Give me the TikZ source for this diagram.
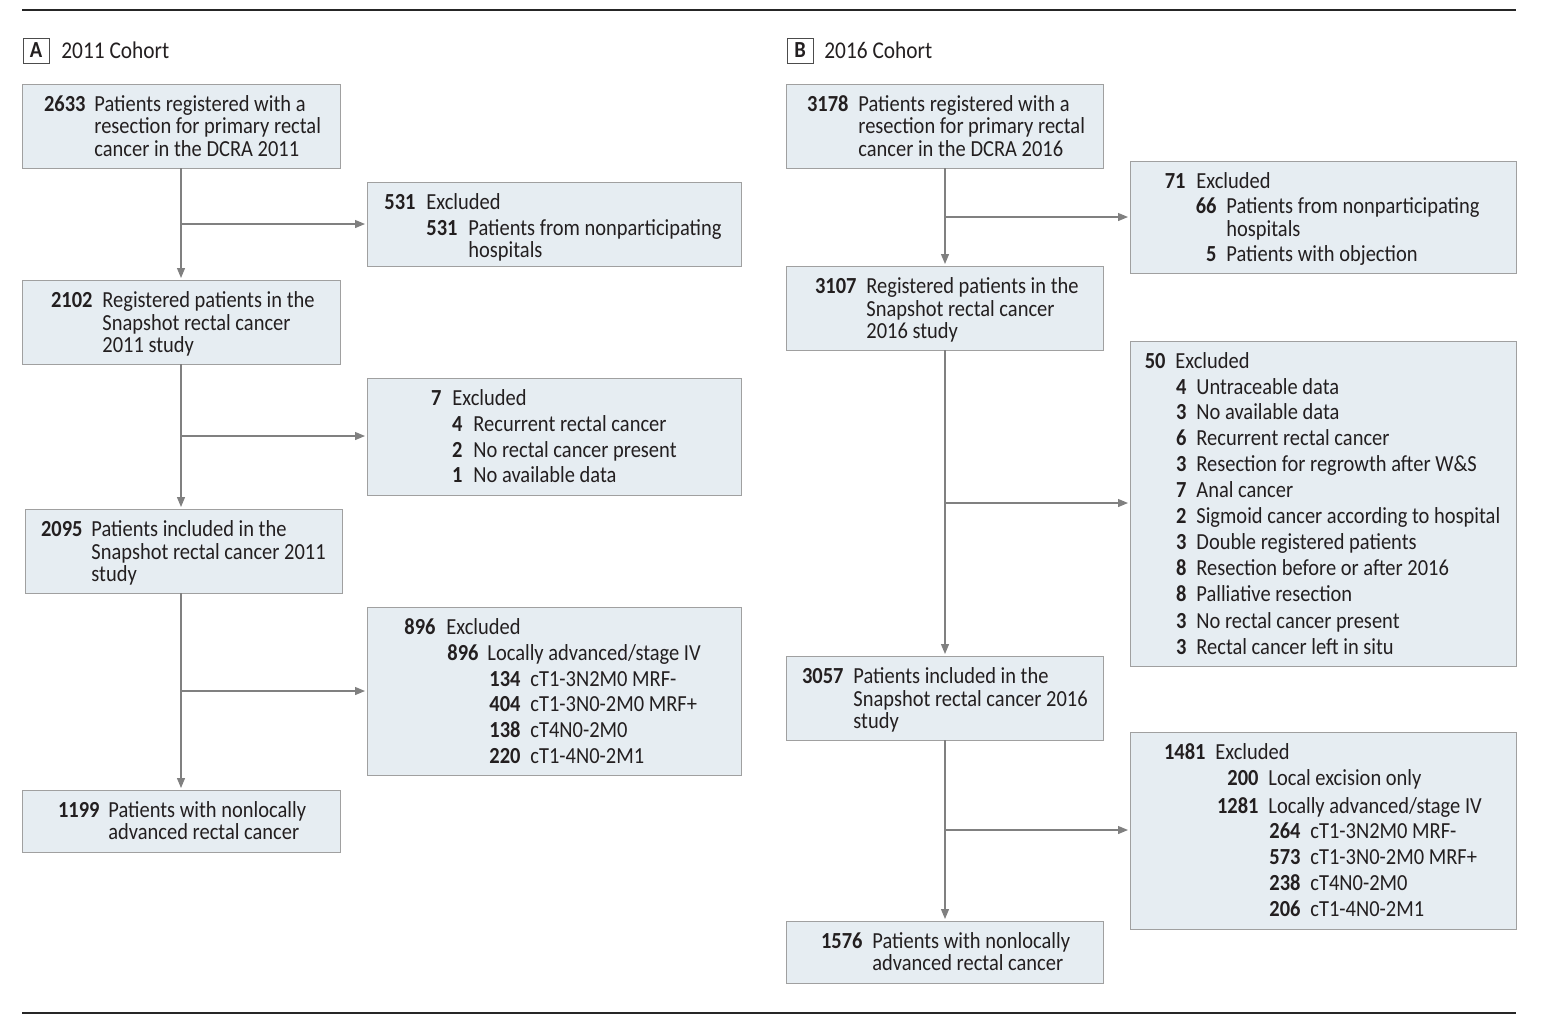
\documentclass[tikz,border=0pt]{standalone}
\usepackage{fontspec}
\setmainfont[FakeStretch=0.89]{Carlito}
\usetikzlibrary{arrows.meta,fit}
\definecolor{boxfill}{RGB}{230,237,242}
\definecolor{boxline}{RGB}{160,160,160}
\definecolor{arrgray}{RGB}{128,128,128}
\definecolor{txt}{RGB}{35,31,32}
\newcounter{lnc}
\newcommand\numrow[5]{%
  \stepcounter{lnc}%
  \node[numst] (n\arabic{lnc}) at (#1,#3+7) {#4};
  \node[txtst] (t\arabic{lnc}) at (#2,#3+7) {#5};
}
\newcommand\txtrow[3]{%
  \stepcounter{lnc}%
  \node[txtst] (c\arabic{lnc}) at (#1,#2+7) {#3};
}
\newcommand\boxat[5]{%
  \node[flowbox, fit={(#2,#3) (#4,#5)}] (#1) {};
}
\begin{document}
\begin{tikzpicture}[x=0.5pt,y=-0.5pt,
  every node/.style={text=txt},
  flowbox/.style={draw=boxline, fill=boxfill, line width=0.5pt, inner sep=0pt, outer sep=0pt},
  numst/.style={anchor=base east, inner sep=0pt, font=\fontsize{11.5}{13}\selectfont\bfseries},
  txtst/.style={anchor=base west, inner sep=0pt, font=\fontsize{11.5}{13}\selectfont},
  lblbox/.style={draw=black!70, line width=0.5pt, inner sep=0pt},
  arr/.style={draw=arrgray, line width=0.6pt, -{Triangle[length=5pt,width=4pt]}, shorten >=1pt},
  rule/.style={draw=black!85, line width=0.75pt}
]
\useasboundingbox (0,0) rectangle (1543,1029);
\draw[rule] (22,10) -- (1516,10);
\draw[rule] (22,1013) -- (1516,1013);

% panel labels
\node[lblbox, fit={(23,38) (49,63)}] (la) {};
\node[font=\fontsize{11.5}{13}\selectfont\bfseries, inner sep=0pt] (lat) at (la.center) {A};
\node[txtst, font=\fontsize{12}{13}\selectfont] (lac) at (61,58) {2011 Cohort};
\node[lblbox, fit={(787,38) (813,63)}] (lb) {};
\node[font=\fontsize{11.5}{13}\selectfont\bfseries, inner sep=0pt] (lbt) at (lb.center) {B};
\node[txtst, font=\fontsize{12}{13}\selectfont] (lbc) at (824,58) {2016 Cohort};

% ===== Panel A boxes =====
\boxat{a1}{22}{84}{340}{168}
\boxat{ax1}{367}{182}{741}{266}
\boxat{a2}{22}{280}{340}{364}
\boxat{ax2}{367}{378}{741}{495}
\boxat{a3}{25}{509}{342}{593}
\boxat{ax3}{367}{607}{741}{775}
\boxat{a4}{22}{790}{340}{852}

% ===== Panel B boxes =====
\boxat{b1}{786}{84}{1103}{168}
\boxat{bx1}{1130}{161}{1516}{273}
\boxat{b2}{786}{266}{1103}{350}
\boxat{bx2}{1130}{341}{1516}{666}
\boxat{b3}{786}{656}{1103}{740}
\boxat{bx3}{1130}{732}{1516}{929}
\boxat{b4}{786}{921}{1103}{983}

% ===== connectors A =====
\coordinate (ja1) at (181,224);
\coordinate (ja2) at (181,436);
\coordinate (ja3) at (181,691);
\draw[arr] (a1.south -| ja1) -- (a2.north -| ja1);
\draw[arr] (a2.south -| ja1) -- (a3.north -| ja1);
\draw[arr] (a3.south -| ja1) -- (a4.north -| ja1);
\draw[arr] (ja1) -- (ja1 -| ax1.west);
\draw[arr] (ja2) -- (ja2 -| ax2.west);
\draw[arr] (ja3) -- (ja3 -| ax3.west);

% ===== connectors B =====
\coordinate (jb1) at (945,217);
\coordinate (jb2) at (945,503);
\coordinate (jb3) at (945,830);
\draw[arr] (b1.south -| jb1) -- (b2.north -| jb1);
\draw[arr] (b2.south -| jb1) -- (b3.north -| jb1);
\draw[arr] (b3.south -| jb1) -- (b4.north -| jb1);
\draw[arr] (jb1) -- (jb1 -| bx1.west);
\draw[arr] (jb2) -- (jb2 -| bx2.west);
\draw[arr] (jb3) -- (jb3 -| bx3.west);

% ===== texts A =====
\numrow{86}{94}{104}{2633}{Patients registered with a}
\txtrow{94}{126}{resection for primary rectal}
\txtrow{94}{149}{cancer in the DCRA 2011}

\numrow{416}{426}{202}{531}{Excluded}
\numrow{458}{468}{228}{531}{Patients from nonparticipating}
\txtrow{468}{250}{hospitals}

\numrow{93}{102}{300}{2102}{Registered patients in the}
\txtrow{102}{323}{Snapshot rectal cancer}
\txtrow{102}{345}{2011 study}

\numrow{442}{452}{398}{7}{Excluded}
\numrow{463}{473}{424}{4}{Recurrent rectal cancer}
\numrow{463}{473}{450}{2}{No rectal cancer present}
\numrow{463}{473}{475}{1}{No available data}

\numrow{83}{91}{529}{2095}{Patients included in the}
\txtrow{91}{552}{Snapshot rectal cancer 2011}
\txtrow{91}{574}{study}

\numrow{436}{446}{627}{896}{Excluded}
\numrow{479}{487}{653}{896}{Locally advanced/stage IV}
\numrow{521}{530}{679}{134}{cT1-3N2M0 MRF-}
\numrow{521}{530}{704}{404}{cT1-3N0-2M0 MRF+}
\numrow{521}{530}{730}{138}{cT4N0-2M0}
\numrow{521}{530}{756}{220}{cT1-4N0-2M1}

\numrow{100}{108}{810}{1199}{Patients with nonlocally}
\txtrow{108}{832}{advanced rectal cancer}

% ===== texts B =====
\numrow{849}{858}{104}{3178}{Patients registered with a}
\txtrow{858}{126}{resection for primary rectal}
\txtrow{858}{149}{cancer in the DCRA 2016}

\numrow{1186}{1196}{181}{71}{Excluded}
\numrow{1217}{1226}{206}{66}{Patients from nonparticipating}
\txtrow{1226}{229}{hospitals}
\numrow{1217}{1226}{254}{5}{Patients with objection}

\numrow{857}{866}{286}{3107}{Registered patients in the}
\txtrow{866}{309}{Snapshot rectal cancer}
\txtrow{866}{331}{2016 study}

\numrow{1166}{1175}{361}{50}{Excluded}
\numrow{1187}{1196}{387}{4}{Untraceable data}
\numrow{1187}{1196}{412}{3}{No available data}
\numrow{1187}{1196}{438}{6}{Recurrent rectal cancer}
\numrow{1187}{1196}{464}{3}{Resection for regrowth after W\&S}
\numrow{1187}{1196}{490}{7}{Anal cancer}
\numrow{1187}{1196}{516}{2}{Sigmoid cancer according to hospital}
\numrow{1187}{1196}{542}{3}{Double registered patients}
\numrow{1187}{1196}{568}{8}{Resection before or after 2016}
\numrow{1187}{1196}{594}{8}{Palliative resection}
\numrow{1187}{1196}{621}{3}{No rectal cancer present}
\numrow{1187}{1196}{647}{3}{Rectal cancer left in situ}

\numrow{844}{853}{676}{3057}{Patients included in the}
\txtrow{853}{699}{Snapshot rectal cancer 2016}
\txtrow{853}{721}{study}

\numrow{1206}{1215}{752}{1481}{Excluded}
\numrow{1259}{1268}{778}{200}{Local excision only}
\numrow{1259}{1268}{806}{1281}{Locally advanced/stage IV}
\numrow{1301}{1310}{831}{264}{cT1-3N2M0 MRF-}
\numrow{1301}{1310}{857}{573}{cT1-3N0-2M0 MRF+}
\numrow{1301}{1310}{883}{238}{cT4N0-2M0}
\numrow{1301}{1310}{909}{206}{cT1-4N0-2M1}

\numrow{863}{872}{941}{1576}{Patients with nonlocally}
\txtrow{872}{963}{advanced rectal cancer}
\end{tikzpicture}
\end{document}
